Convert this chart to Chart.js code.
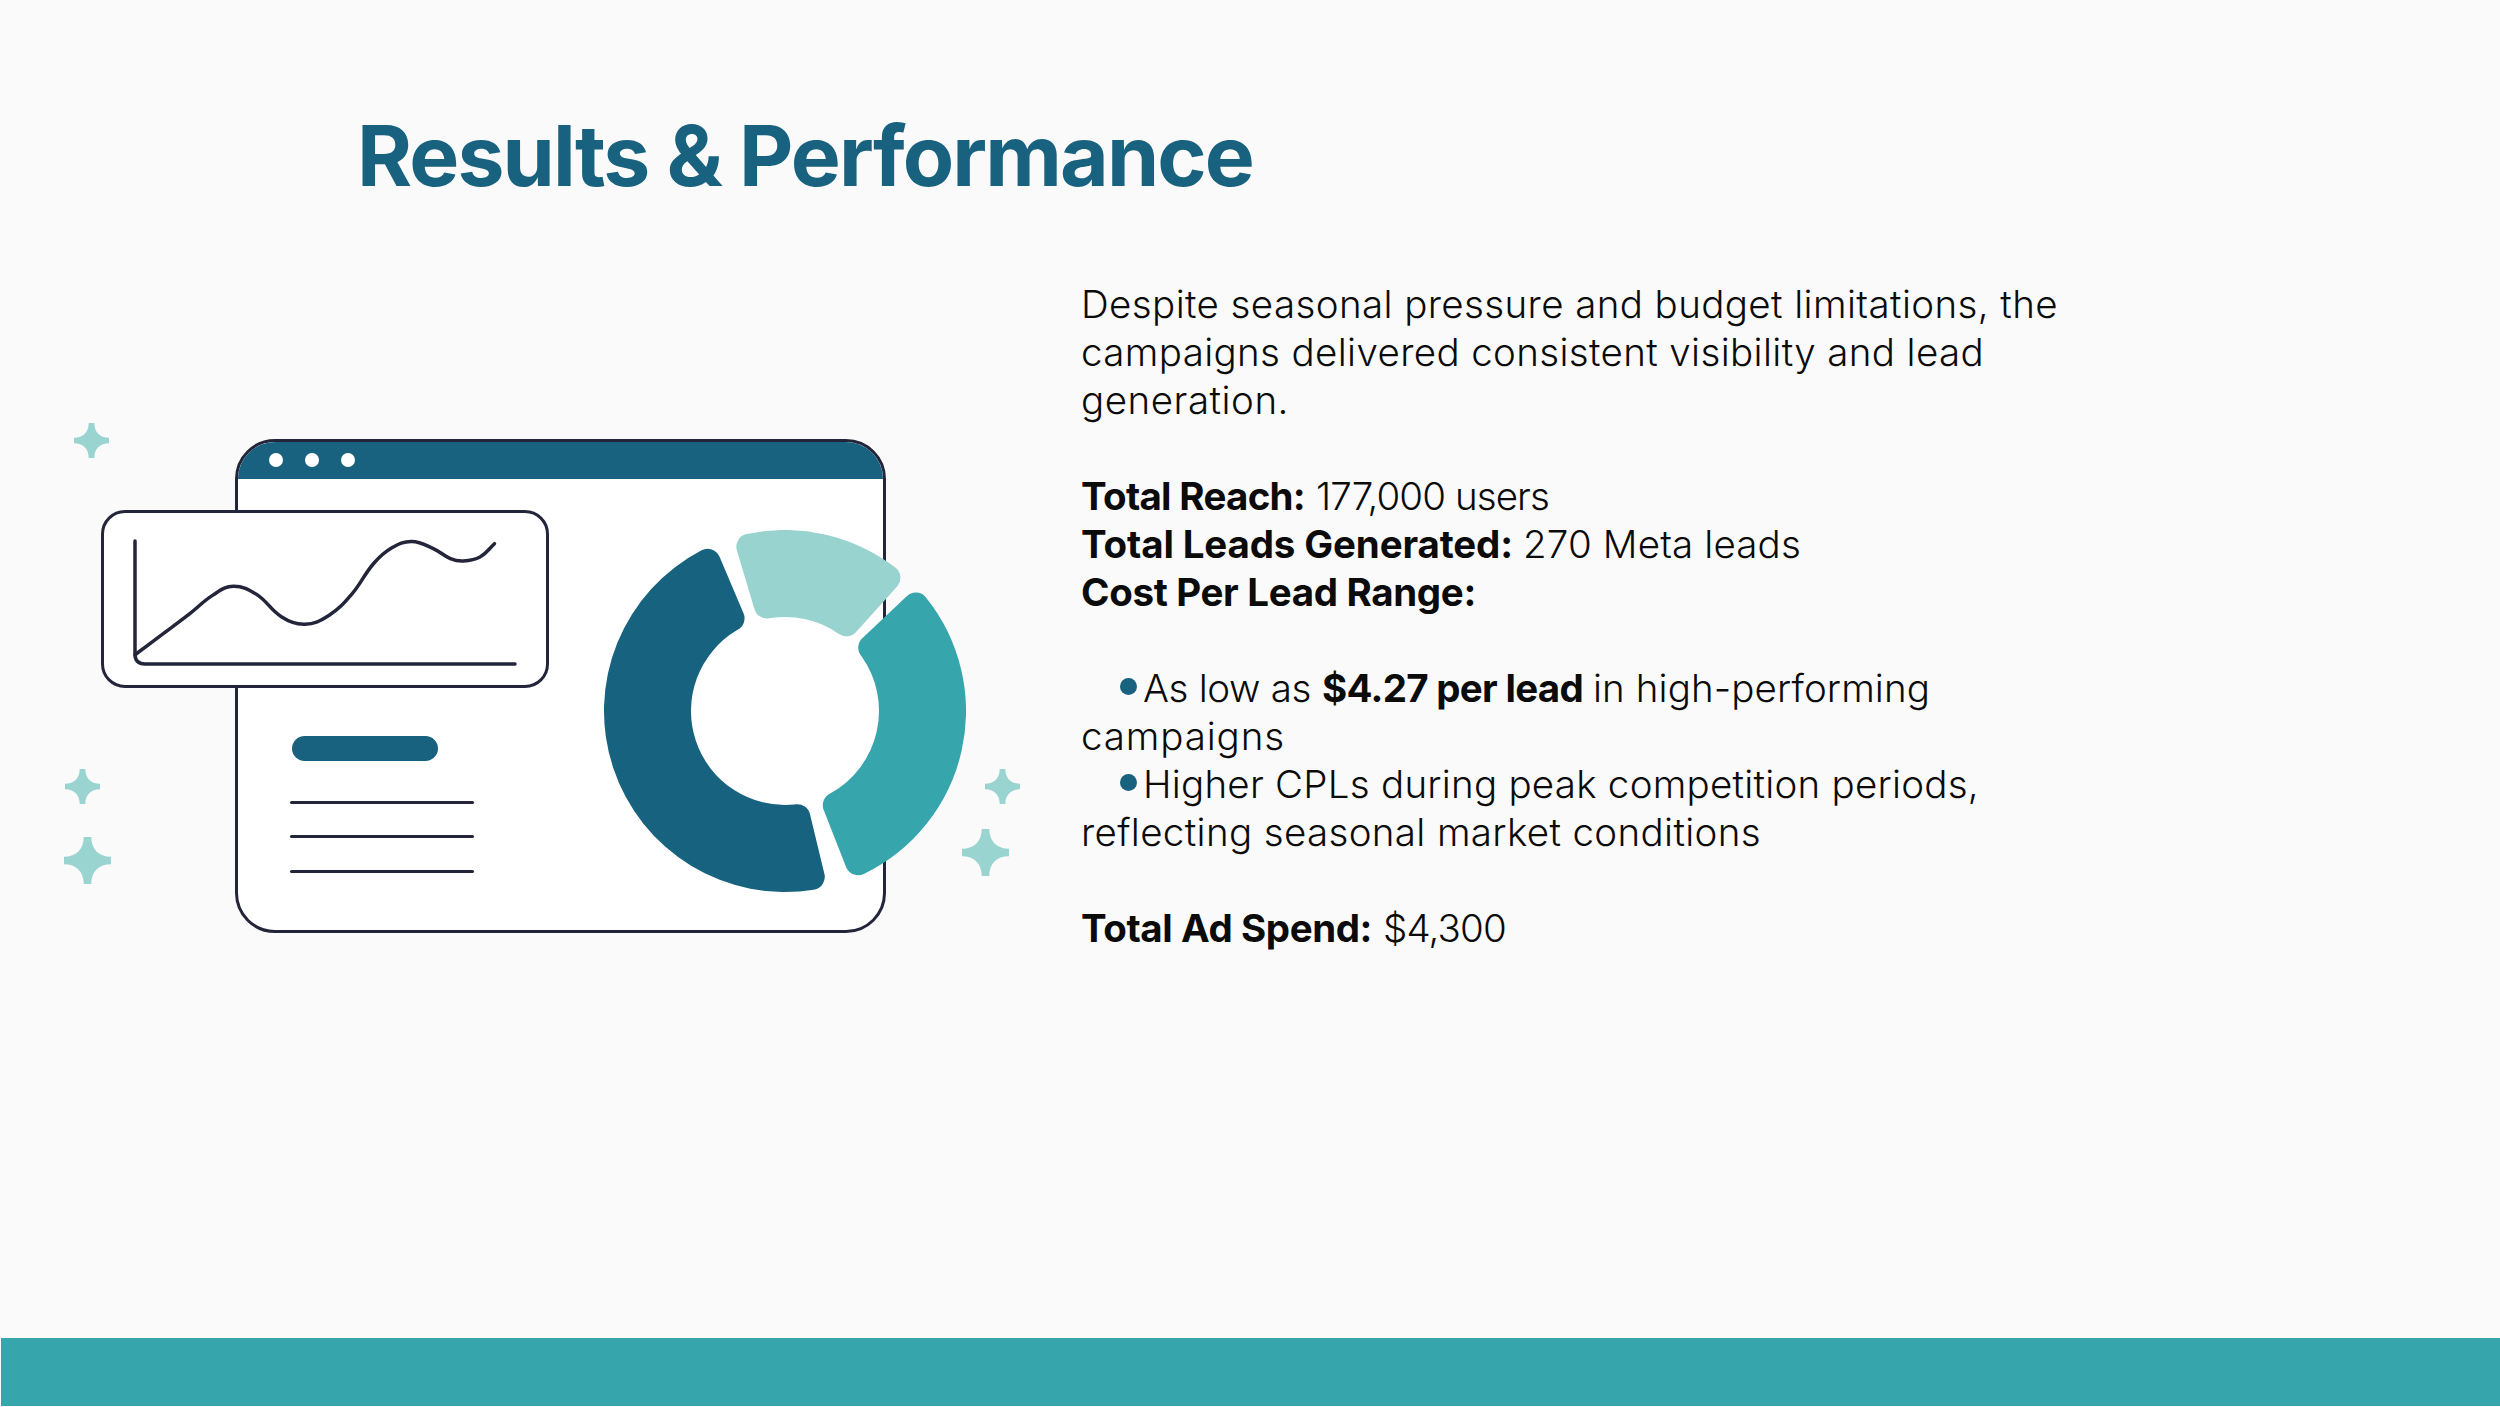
<!DOCTYPE html>
<html><head><meta charset="utf-8">
<script src="https://cdn.jsdelivr.net/npm/chart.js@4"></script>
<style>
html,body{margin:0;padding:0;background:#fafafa;width:2500px;height:1407px;overflow:hidden}
.t{position:absolute;white-space:pre;font:300 38.5px Inter,sans-serif;color:#0b0b0b;line-height:48px}
.b{font-weight:700}
#title{position:absolute;left:357px;top:101px;white-space:pre;font:700 84px Inter,sans-serif;color:#19627f;line-height:110px}
#bar{position:absolute;left:1px;top:1338px;width:2499px;height:68px;background:#36a5ac}
#win{position:absolute;left:235px;top:439px;width:651px;height:494px;box-sizing:border-box;border:3.5px solid #23253a;border-radius:40px;background:#fff;overflow:hidden}
#hdr{position:absolute;left:0;top:0;right:0;height:37px;background:#19627f}
.dot{position:absolute;width:14px;height:14px;border-radius:50%;background:#fff;top:453px}
#pill{position:absolute;left:292px;top:736px;width:146px;height:25px;border-radius:12.5px;background:#19627f}
.rule{position:absolute;left:290px;width:184px;height:3px;background:#23253a;border-radius:2px}
#panel{position:absolute;left:101px;top:510px;width:448px;height:178px;box-sizing:border-box;border:3.5px solid #23253a;border-radius:24px;background:#fff}
.bul{position:absolute;width:17px;height:17px;border-radius:50%;background:#19627f;left:1120px}
#lineWrap{position:absolute;left:127px;top:533px;width:396px;height:139px}
#donutWrap{position:absolute;left:604px;top:530px;width:362px;height:362px}
svg.star{position:absolute;overflow:visible}
</style></head><body>
<div id="win"><div id="hdr"></div></div>
<div class="dot" style="left:269px"></div><div class="dot" style="left:305px"></div><div class="dot" style="left:341px"></div>
<div id="pill"></div>
<div class="rule" style="top:801px"></div><div class="rule" style="top:835px"></div><div class="rule" style="top:870px"></div>
<div id="panel"></div>
<div id="lineWrap"><canvas id="line" width="396" height="139"></canvas></div>
<div id="donutWrap"><canvas id="donut" width="362" height="362"></canvas></div>
<div id="stars"></div>
<div id="bar"></div>
<div id="title">Results &amp; Performance</div>
<div id="text"></div>
<script>
// ---- chart data ----
const donutLabels = ['Light segment','Teal segment','Dark segment'];
const donutValues = [17.2, 32.8, 50];
const donutColors = ['#99d3d0','#37a5ac','#17627f'];
const lineX = [0, 7, 14, 20.5, 25.9, 32, 38.5, 44.7, 51, 57, 62.8, 67.5, 72.8, 78.5, 83, 86.4, 90.8, 94.6];
const lineY = [7.5, 23.7, 39.9, 56, 63.3, 56.6, 38.5, 32.3, 39.4, 56.6, 81.7, 94.3, 99.5, 93.8, 85.7, 83.8, 87, 97.8];
// ---- text lines: [left, baseline, target width, text, bold] ----
const textRuns = [
 [1081,318,977,'Despite seasonal pressure and budget limitations, the',0],
 [1081,366,903,'campaigns delivered consistent visibility and lead',0],
 [1081,414,208,'generation.',0],
 [1081,510,224,'Total Reach:',1],[1316,510,233,'177,000 users',0],
 [1081,558,432,'Total Leads Generated:',1],[1523,558,278,'270 Meta leads',0],
 [1081,606,395,'Cost Per Lead Range:',1],
 [1143,702,168,'As low as',0],[1322,702,261,'$4.27 per lead',1],[1593,702,337,'in high-performing',0],
 [1081,750,204,'campaigns',0],
 [1143,798,836,'Higher CPLs during peak competition periods,',0],
 [1081,846,680,'reflecting seasonal market conditions',0],
 [1081,942,291,'Total Ad Spend:',1],[1383,942,123,'$4,300',0]
];
const bulletTops = [678, 774];
const starSpots = [[91.5,440,35],[82.5,786,35],[87,860,47],[1002.5,786,35],[985,852,47]];

const textHost = document.getElementById('text');
function fit(el, target){
  const n = el.textContent.length;
  el.style.letterSpacing = '0px';
  const w = el.getBoundingClientRect().width;
  el.style.letterSpacing = ((target - w)/Math.max(1,n)).toFixed(3)+'px';
}
textRuns.forEach(([x,base,w,str,bold])=>{
  const d=document.createElement('div');
  d.className='t'+(bold?' b':'');
  d.textContent=str;
  d.style.left=x+'px';
  d.style.top=(base-38)+'px';
  textHost.appendChild(d);
  fit(d,w);
});
bulletTops.forEach(y=>{const b=document.createElement('div');b.className='bul';b.style.top=y+'px';textHost.appendChild(b);});
fit(document.getElementById('title'),896);

const starHost=document.getElementById('stars');
starSpots.forEach(([cx,cy,s])=>{
  const r=s/2;
  const svg=document.createElementNS('http://www.w3.org/2000/svg','svg');
  svg.setAttribute('class','star');
  svg.setAttribute('width',s);svg.setAttribute('height',s);
  svg.style.left=(cx-r)+'px';svg.style.top=(cy-r)+'px';
  svg.setAttribute('viewBox','-50 -50 100 100');
  const p=document.createElementNS('http://www.w3.org/2000/svg','path');
  p.setAttribute('d','M-8,-50 L8,-50 C8,-24 24,-8 50,-8 L50,8 C24,8 8,24 8,50 L-8,50 C-8,24 -24,8 -50,8 L-50,-8 C-24,-8 -8,-24 -8,-50 Z');
  p.setAttribute('fill','#9ad4d1');
  svg.appendChild(p);starHost.appendChild(svg);
});

new Chart(document.getElementById('donut'),{
  type:'doughnut',
  data:{labels:donutLabels,datasets:[{data:donutValues,backgroundColor:donutColors,borderWidth:0,spacing:14,borderRadius:13}]},
  options:{responsive:false,animation:false,rotation:-18.3,cutout:'50%',
    layout:{padding:0},plugins:{legend:{display:false},tooltip:{enabled:false}}}
});

const roundedAxes={id:'roundedAxes',afterDatasetsDraw(c){
  const {ctx,chartArea:a}=c;
  ctx.save();ctx.strokeStyle='#23253a';ctx.lineWidth=3.5;ctx.lineCap='round';
  ctx.beginPath();ctx.moveTo(a.left,a.top);ctx.lineTo(a.left,a.bottom-10);
  ctx.quadraticCurveTo(a.left,a.bottom,a.left+10,a.bottom);ctx.lineTo(a.right,a.bottom);ctx.stroke();ctx.restore();
}};
new Chart(document.getElementById('line'),{
  type:'line',
  data:{datasets:[{data:lineX.map((x,i)=>({x,y:lineY[i]})),borderColor:'#23253a',borderWidth:3.5,pointRadius:0,tension:0.4,borderCapStyle:'round',fill:false,clip:false}]},
  options:{responsive:false,animation:false,layout:{padding:{left:8,right:8,top:8,bottom:8}},
    scales:{x:{type:'linear',min:0,max:100,display:false},y:{min:0,max:100,display:false}},
    plugins:{legend:{display:false},tooltip:{enabled:false}}},
  plugins:[roundedAxes]
});
</script>
</body></html>
